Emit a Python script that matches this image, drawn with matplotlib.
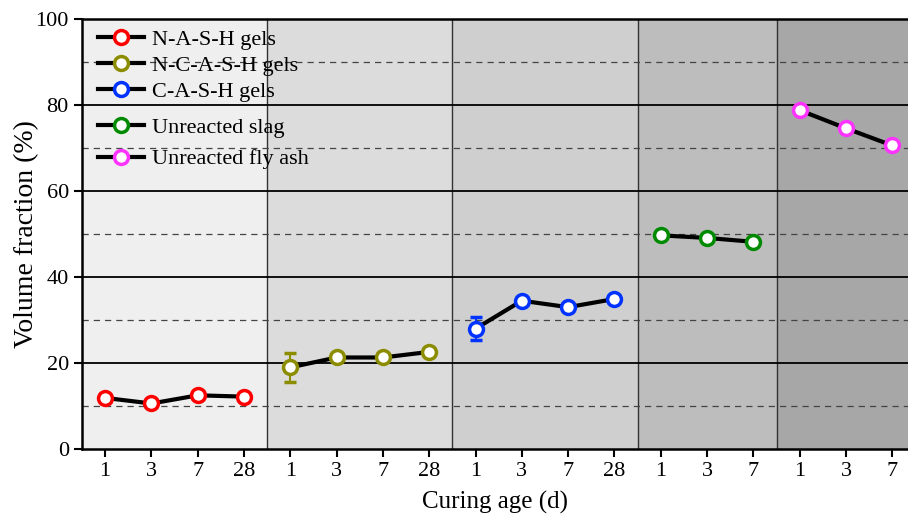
import matplotlib
matplotlib.use("Agg")
from matplotlib import pyplot as plt
from matplotlib.lines import Line2D
import numpy as np

plt.rcParams['font.family'] = ['Liberation Serif', 'DejaVu Serif']

# data
phases = ["N-A-S-H gels", "N-C-A-S-H gels", "C-A-S-H gels", "Unreacted slag", "Unreacted fly ash"]
ages = [["1", "3", "7", "28"], ["1", "3", "7", "28"], ["1", "3", "7", "28"], ["1", "3", "7"], ["1", "3", "7"]]
values = [
    [11.9, 10.6, 12.5, 12.2],
    [19.0, 21.3, 21.3, 22.6],
    [28.0, 34.5, 33.0, 34.9],
    [49.7, 49.1, 48.2],
    [78.8, 74.6, 70.6],
]
errors = [
    [0.8, 0.6, 0.7, 0.6],
    [3.4, 0.6, 0.6, 0.5],
    [2.7, 0.7, 0.6, 0.5],
    [0.5, 0.5, 0.6],
    [0.6, 0.4, 0.4],
]
colors = ["#ff0000", "#8c8c00", "#0033ff", "#008a00", "#ff33ff"]
shades = ["#efefef", "#dcdcdc", "#cfcfcf", "#bdbdbd", "#a7a7a7"]

fig = plt.figure(figsize=(9.08, 5.15), dpi=100)
ax = fig.add_axes([0.0903, 0.128, 0.9097, 0.835])

start = 0
ticklabels = []
for i in range(len(phases)):
    n = len(values[i])
    x = np.arange(start, start + n)
    ax.axvspan(start - 0.5, start + n - 0.5, color=shades[i], zorder=0, lw=0)
    if i > 0:
        ax.axvline(start - 0.5, color="#333333", lw=1, zorder=1)
    ax.plot(x, values[i], color="black", lw=3, zorder=3)
    ax.errorbar(x, values[i], yerr=errors[i], fmt="o", color=colors[i], ms=10,
                mfc="white", mec=colors[i], mew=2.5, ecolor=colors[i],
                elinewidth=1.5, capsize=4, capthick=1.5, zorder=4)
    ticklabels += ages[i]
    start += n

for y in [20, 40, 60, 80]:
    ax.axhline(y, color="black", lw=1.3, zorder=2)
for y in [10, 30, 50, 70, 90]:
    ax.axhline(y, color="#444444", lw=0.9, ls=(0, (5, 4)), zorder=2)

ax.set_xlim(-0.5, 17.34)
ax.set_ylim(0, 100)
ax.set_xticks(np.arange(len(ticklabels)))
ax.set_xticklabels(ticklabels)
ax.set_yticks([0, 20, 40, 60, 80, 100])
ax.tick_params(labelsize=16, width=1.5, length=6)
for s in ["left", "bottom", "top"]:
    ax.spines[s].set_linewidth(1.8)
ax.spines["right"].set_visible(False)

ax.set_ylabel("Volume fraction (%)", fontsize=20)
ax.yaxis.set_label_coords(-0.052, 0.5)
ax.set_xlabel("Curing age (d)", fontsize=18, labelpad=7)

handles = [Line2D([], [], color="black", lw=3, marker="o", ms=10, mfc="white",
                  mec=c, mew=2.5) for c in colors]
leg1 = ax.legend(handles[:3], phases[:3], loc="upper left", frameon=False, fontsize=16,
                 handlelength=2.1, handletextpad=0.35, labelspacing=0.25,
                 bbox_to_anchor=(0.0, 1.012), borderaxespad=0.3)
ax.add_artist(leg1)
ax.legend(handles[3:], phases[3:], loc="upper left", frameon=False, fontsize=16,
          handlelength=2.1, handletextpad=0.35, labelspacing=0.5,
          bbox_to_anchor=(0.0, 0.808), borderaxespad=0.3)

fig.savefig("out.png", dpi=100)
